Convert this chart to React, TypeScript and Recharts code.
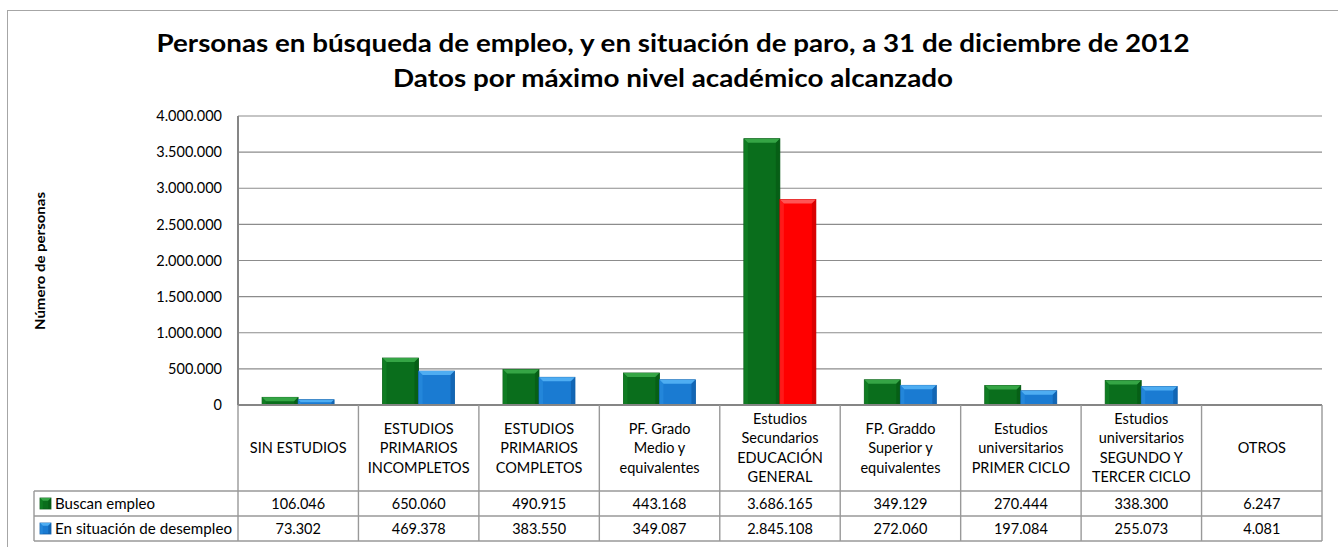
import { BarChart, Bar, XAxis, YAxis, CartesianGrid, Cell } from "recharts";

const titleLines = [
  "Personas en búsqueda de empleo, y en situación de paro, a 31 de diciembre de 2012",
  "Datos por máximo nivel académico alcanzado",
];
const yAxisTitle = "Número de personas";

const categories = [
  "SIN ESTUDIOS",
  "ESTUDIOS\nPRIMARIOS\nINCOMPLETOS",
  "ESTUDIOS\nPRIMARIOS\nCOMPLETOS",
  "PF. Grado\nMedio y\nequivalentes",
  "Estudios\nSecundarios\nEDUCACIÓN\nGENERAL",
  "FP. Graddo\nSuperior y\nequivalentes",
  "Estudios\nuniversitarios\nPRIMER CICLO",
  "Estudios\nuniversitarios\nSEGUNDO Y\nTERCER CICLO",
  "OTROS",
];
const seriesNames = ["Buscan empleo", "En situación de desempleo"];
const buscanEmpleo = [106046, 650060, 490915, 443168, 3686165, 349129, 270444, 338300, 6247];
const desempleo = [73302, 469378, 383550, 349087, 2845108, 272060, 197084, 255073, 4081];
const yTicks = [0, 500000, 1000000, 1500000, 2000000, 2500000, 3000000, 3500000, 4000000];
const highlightIndex = 4; // the red bar

const data = categories.map((cat, i) => ({
  cat,
  buscan: buscanEmpleo[i],
  desempleo: desempleo[i],
}));

// layout
const W = 1338;
const H = 547;
const PLOT_LEFT = 238;
const PLOT_RIGHT = 1322;
const PLOT_TOP = 116;
const PLOT_BOTTOM = 405;
const BAND = (PLOT_RIGHT - PLOT_LEFT) / categories.length;
const ROW1 = 491;
const ROW2 = 516;
const TABLE_BOTTOM = 541;
const LEGEND_LEFT = 34;
const FONT = "Lato, Carlito, 'DejaVu Sans', sans-serif";
const GRID = "#8c8c8c";
const TABLE_LINE = "#999999";

const GREEN = "#0a6e1c";
const BLUE = "#1a7bd2";
const RED = "#ff0000";

const palettes: Record<string, { body: string; top: string; left: string; right: string; edge: string }> = {
  [GREEN]: { body: GREEN, top: "#35a545", left: "#138526", right: "#065814", edge: "#0a5a17" },
  [BLUE]: { body: BLUE, top: "#4eadf2", left: "#2a8ee0", right: "#0f5ea8", edge: "#0f5ea8" },
  [RED]: { body: RED, top: "#ff5555", left: "#ff2a2a", right: "#cc0000", edge: "#c80000" },
};

const fmt = (n: number) => n.toString().replace(/\B(?=(\d{3})+(?!\d))/g, ".");

function BevelRect({ x, y, width, height, fill }: any) {
  if (!height || height <= 0) return null;
  const p = palettes[fill] ?? palettes[GREEN];
  const b = Math.min(4, height / 2, width / 4);
  return (
    <g>
      <rect x={x} y={y} width={width} height={height} fill={p.body} stroke={p.edge} strokeWidth={0.8} />
      {height > 2 && (
        <>
          <polygon
            points={`${x},${y} ${x + width},${y} ${x + width - b},${y + b} ${x + b},${y + b}`}
            fill={p.top}
          />
          <polygon
            points={`${x},${y} ${x + b},${y + b} ${x + b},${y + height} ${x},${y + height}`}
            fill={p.left}
            opacity={0.6}
          />
          <polygon
            points={`${x + width},${y} ${x + width - b},${y + b} ${x + width - b},${y + height} ${x + width},${y + height}`}
            fill={p.right}
            opacity={0.7}
          />
        </>
      )}
    </g>
  );
}

function TableTick(props: any) {
  const { x, payload } = props;
  const index = props.index ?? payload?.index ?? 0;
  const lines = String(categories[index]).split("\n");
  const lineH = 19.5;
  const mid = (PLOT_BOTTOM + ROW1) / 2;
  const first = mid - ((lines.length - 1) * lineH) / 2;
  const textStyle = { fontFamily: FONT, fontSize: 14.5, fill: "#000" };
  return (
    <g>
      <line x1={x + BAND / 2} x2={x + BAND / 2} y1={PLOT_BOTTOM} y2={TABLE_BOTTOM} stroke={TABLE_LINE} strokeWidth={1.4} />
      <text textAnchor="middle" style={textStyle}>
        {lines.map((l, i) => (
          <tspan key={i} x={x} y={first + i * lineH + 5}>
            {l}
          </tspan>
        ))}
      </text>
      <text x={x} y={(ROW1 + ROW2) / 2 + 5} textAnchor="middle" style={textStyle}>
        {fmt(buscanEmpleo[index])}
      </text>
      <text x={x} y={(ROW2 + TABLE_BOTTOM) / 2 + 5} textAnchor="middle" style={textStyle}>
        {fmt(desempleo[index])}
      </text>
    </g>
  );
}

function LegendKey({ x, y, color }: { x: number; y: number; color: string }) {
  return <BevelRect x={x} y={y} width={11} height={11} fill={color} />;
}

export default function App() {
  return (
    <div style={{ position: "absolute", left: 0, top: 0, width: W, height: H, background: "#fff" }}>
      <BarChart
        width={W}
        height={H}
        data={data}
        margin={{ top: PLOT_TOP, right: W - PLOT_RIGHT, bottom: H - TABLE_BOTTOM, left: 0 }}
        barCategoryGap="20%"
        barGap={0}
      >
        <CartesianGrid vertical={false} stroke={GRID} strokeWidth={1.2} />
        <XAxis
          dataKey="cat"
          height={TABLE_BOTTOM - PLOT_BOTTOM}
          interval={0}
          tickLine={false}
          tickSize={0}
          axisLine={{ stroke: "#868686", strokeWidth: 2 }}
          tick={<TableTick />}
        />
        <YAxis
          width={PLOT_LEFT}
          domain={[0, 4000000]}
          ticks={yTicks}
          tickFormatter={fmt}
          tickLine={false}
          tickSize={0}
          tickMargin={16}
          axisLine={{ stroke: "#868686", strokeWidth: 2 }}
          tick={{ fontFamily: FONT, fontSize: 14.5, fill: "#000" }}
        />
        <Bar dataKey="buscan" name={seriesNames[0]} fill={GREEN} shape={<BevelRect />} isAnimationActive={false} />
        <Bar dataKey="desempleo" name={seriesNames[1]} fill={BLUE} shape={<BevelRect />} isAnimationActive={false}>
          {data.map((_, i) => (
            <Cell key={i} fill={i === highlightIndex ? RED : BLUE} />
          ))}
        </Bar>
      </BarChart>
      <svg
        width={W}
        height={H}
        style={{ position: "absolute", left: 0, top: 0, pointerEvents: "none" }}
      >
        <rect x={7.5} y={10.5} width={W} height={H} fill="none" stroke="#a6a6a6" />
        <text
          x={673}
          y={52}
          textAnchor="middle"
          textLength={1033}
          lengthAdjust="spacingAndGlyphs"
          style={{ fontFamily: FONT, fontSize: 25, fontWeight: 700, fill: "#000" }}
        >
          {titleLines[0]}
        </text>
        <text
          x={673}
          y={87}
          textAnchor="middle"
          textLength={560}
          lengthAdjust="spacingAndGlyphs"
          style={{ fontFamily: FONT, fontSize: 25, fontWeight: 700, fill: "#000" }}
        >
          {titleLines[1]}
        </text>
        <text
          transform="translate(45, 261) rotate(-90)"
          textAnchor="middle"
          textLength={138}
          lengthAdjust="spacingAndGlyphs"
          style={{ fontFamily: FONT, fontSize: 13, fontWeight: 700, fill: "#000" }}
        >
          {yAxisTitle}
        </text>
        {/* data table frame */}
        <line x1={LEGEND_LEFT} x2={PLOT_RIGHT} y1={ROW1} y2={ROW1} stroke={TABLE_LINE} strokeWidth={1.4} />
        <line x1={LEGEND_LEFT} x2={PLOT_RIGHT} y1={ROW2} y2={ROW2} stroke={TABLE_LINE} strokeWidth={1.4} />
        <line x1={LEGEND_LEFT} x2={PLOT_RIGHT} y1={TABLE_BOTTOM} y2={TABLE_BOTTOM} stroke={TABLE_LINE} strokeWidth={1.4} />
        <line x1={LEGEND_LEFT} x2={LEGEND_LEFT} y1={ROW1} y2={TABLE_BOTTOM} stroke={TABLE_LINE} strokeWidth={1.4} />
        <line x1={PLOT_LEFT} x2={PLOT_LEFT} y1={PLOT_BOTTOM} y2={TABLE_BOTTOM} stroke={TABLE_LINE} strokeWidth={1.4} />
        <LegendKey x={40} y={(ROW1 + ROW2) / 2 - 5.5} color={GREEN} />
        <LegendKey x={40} y={(ROW2 + TABLE_BOTTOM) / 2 - 5.5} color={BLUE} />
        <text
          x={55}
          y={(ROW1 + ROW2) / 2 + 5}
          textLength={100}
          lengthAdjust="spacingAndGlyphs"
          style={{ fontFamily: FONT, fontSize: 15, fill: "#000" }}
        >
          {seriesNames[0]}
        </text>
        <text
          x={55}
          y={(ROW2 + TABLE_BOTTOM) / 2 + 5}
          textLength={177}
          lengthAdjust="spacingAndGlyphs"
          style={{ fontFamily: FONT, fontSize: 15, fill: "#000" }}
        >
          {seriesNames[1]}
        </text>
      </svg>
    </div>
  );
}
